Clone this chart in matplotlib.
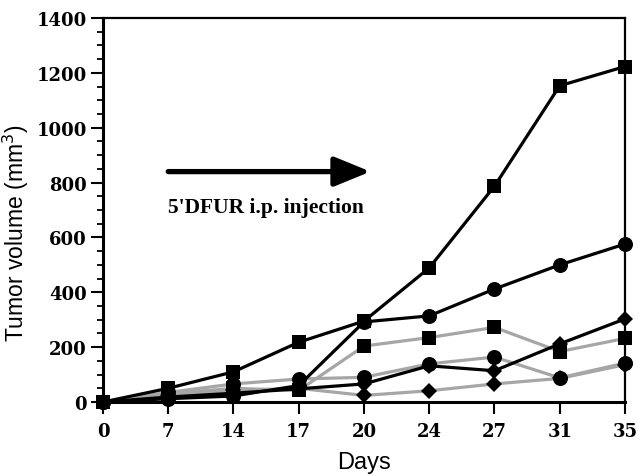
import numpy as np
import matplotlib
matplotlib.use("Agg")
import matplotlib.pyplot as plt
from matplotlib.ticker import MultipleLocator

days = ['0', '7', '14', '17', '20', '24', '27', '31', '35']

black_square = [0, 50, 110, 218, 295, 489, 787, 1153, 1223]
black_circle = [0, 12, 22, 60, 292, 314, 412, 500, 576]
black_diamond = [0, 18, 32, 48, 66, 132, 114, 212, 303]
gray_square = [0, 30, 50, 42, 204, 235, 272, 184, 232]
gray_circle = [0, 35, 66, 84, 90, 139, 164, 88, 142]
gray_diamond = [0, 25, 42, 50, 24, 41, 66, 86, 136]

arrow_label = "5'DFUR i.p. injection"

fig = plt.figure(figsize=(6.38, 4.77), dpi=100)
ax = fig.add_axes([0.1614, 0.1551, 0.9796 - 0.1614, 0.9602 - 0.1551])

x = np.arange(len(days))
black = '#000000'
gray = '#a6a6a6'

series = [
    (gray_square, gray, 's', 10),
    (gray_circle, gray, 'o', 10.8),
    (gray_diamond, gray, 'D', 8.4),
    (black_diamond, black, 'D', 8.4),
    (black_circle, black, 'o', 10.8),
    (black_square, black, 's', 10),
]
for vals, col, m, ms in series:
    ax.plot(x, vals, color=col, lw=2.3, zorder=2, clip_on=False,
            solid_joinstyle='round')
for vals, col, m, ms in series:
    ax.plot(x, vals, linestyle='none', marker=m, markersize=ms,
            color='black', markeredgewidth=0, zorder=3, clip_on=False)

ax.set_xlim(0, len(days) - 1)
ax.set_ylim(0, 1400)
ax.set_xticks(x)
ax.set_xticklabels(days)
ax.yaxis.set_major_locator(MultipleLocator(200))
ax.yaxis.set_minor_locator(MultipleLocator(50))

for lab in ax.get_xticklabels() + ax.get_yticklabels():
    lab.set_fontfamily('DejaVu Serif')
    lab.set_fontweight('bold')
    lab.set_fontsize(13)

ax.tick_params(axis='both', which='major', direction='out', length=8.5,
               width=1.5, color='black')
ax.tick_params(axis='y', which='minor', direction='out', length=4.5, width=1.3)
ax.tick_params(axis='x', which='major', pad=6)
ax.tick_params(axis='y', which='major', pad=3)
ax.tick_params(top=False, right=False)

for s in ['left', 'bottom']:
    ax.spines[s].set_linewidth(2.2)
for s in ['top', 'right']:
    ax.spines[s].set_linewidth(1.6)

ax.set_xlabel('Days', fontsize=17, family='Liberation Sans', labelpad=8)
ax.set_ylabel('Tumor volume (mm$^3$)', fontsize=16.5, family='Liberation Sans')
ax.yaxis.set_label_coords(-0.138, 0.443)

ax.annotate('', xy=(4.1, 840), xytext=(1.0, 840),
            arrowprops=dict(arrowstyle='-|>,head_length=1.1,head_width=0.45',
                            mutation_scale=20, lw=3.8, color='black',
                            shrinkA=0, shrinkB=0))
ax.text(1.0, 711, arrow_label, fontsize=15.5, family='Liberation Serif',
        weight='bold', ha='left', va='center')

fig.savefig('out.png', dpi=100)
